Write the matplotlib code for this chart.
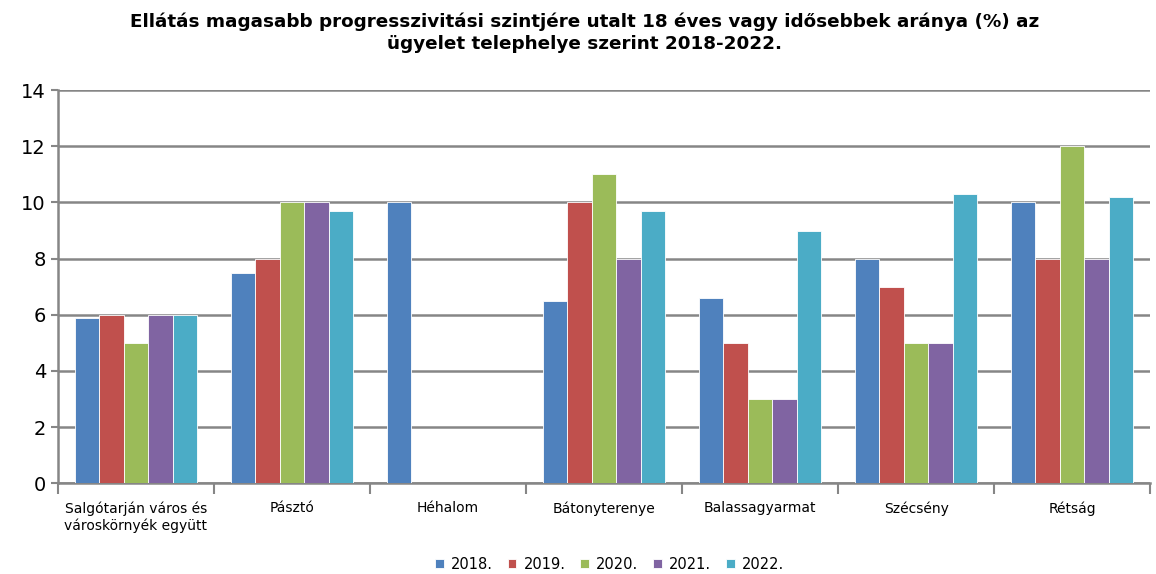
import matplotlib.pyplot as plt
import numpy as np

categories = ['Salgótarján város és\nvároskörnyék együtt', 'Pásztó', 'Héhalom',
              'Bátonyterenye', 'Balassagyarmat', 'Szécsény', 'Rétság']
years = ['2018.', '2019.', '2020.', '2021.', '2022.']
v2018 = [5.9, 7.5, 10, 6.5, 6.6, 8, 10]
v2019 = [6, 8, 0, 10, 5, 7, 8]
v2020 = [5, 10, 0, 11, 3, 5, 12]
v2021 = [6, 10, 0, 8, 3, 5, 8]
v2022 = [6, 9.7, 0, 9.7, 9, 10.3, 10.2]
series = [v2018, v2019, v2020, v2021, v2022]
colors = ['#4F81BD', '#C0504D', '#9BBB59', '#8064A2', '#4BACC6']

fig = plt.figure(figsize=(11.56, 5.74), dpi=100)
ax = fig.add_axes([0.050, 0.158, 0.945, 0.685])

x = np.arange(len(categories))
w = 0.157
for i, (vals, c, lab) in enumerate(zip(series, colors, years)):
    ax.bar(x + (i - 2) * w, vals, w, color=c, edgecolor='white', linewidth=0.6,
           label=lab, zorder=3)

ax.set_xlim(-0.5, len(categories) - 0.5)
ax.set_ylim(0, 14)
ax.set_yticks(range(0, 15, 2))
ax.yaxis.grid(True, color='#868686', linewidth=1.8, zorder=0)
ax.tick_params(axis='y', labelsize=14, length=5, color='#868686', width=1.5)

ax.set_xticks(x)
ax.set_xticklabels(categories, fontsize=10)
ax.set_xticks(np.arange(-0.5, len(categories)), minor=True)
ax.tick_params(axis='x', which='major', length=0, pad=13)
ax.tick_params(axis='x', which='minor', length=8, color='#868686', width=1.5)

for s in ['top', 'right']:
    ax.spines[s].set_visible(False)
ax.spines['left'].set_color('#868686')
ax.spines['left'].set_linewidth(1.8)
ax.spines['bottom'].set_color('#868686')
ax.spines['bottom'].set_linewidth(1.8)

fig.suptitle('Ellátás magasabb progresszivitási szintjére utalt 18 éves vagy idősebbek aránya (%) az\n'
             'ügyelet telephelye szerint 2018-2022.',
             fontsize=13.2, fontweight='bold', y=0.978, x=0.506, linespacing=1.25)

ax.legend(loc='lower center', bbox_to_anchor=(0.505, -0.258), ncol=5, frameon=False,
          fontsize=10.5, handlelength=0.6, handleheight=0.6, handletextpad=0.5,
          columnspacing=1.0)

fig.savefig('out.png', dpi=100)
